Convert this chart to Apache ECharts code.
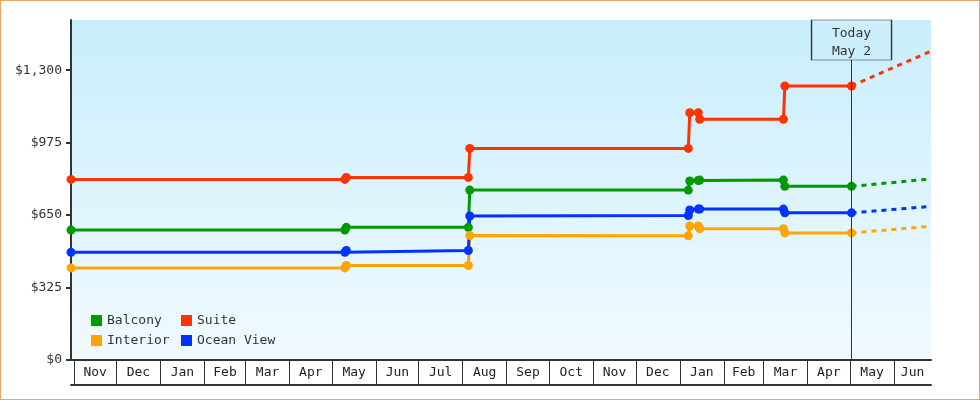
<!DOCTYPE html>
<html>
<head>
<meta charset="utf-8">
<script src="https://cdn.jsdelivr.net/npm/echarts@6/dist/echarts.min.js"></script>
<style>
  html, body { margin: 0; padding: 0; background: #fff; }
  #wrap { position: relative; width: 980px; height: 400px; }
  #chart { position: absolute; left: 0; top: 0; width: 980px; height: 400px; }
  #frame { position: absolute; left: 0; top: 0; width: 980px; height: 400px; box-sizing: border-box; border: 1px solid #e5a763; pointer-events: none; }
</style>
</head>
<body>
<div id="wrap"><div id="chart"></div><div id="frame"></div></div>
<script>
// price history, one value per change date
const dates = ['2023-10-30', '2024-05-10', '2024-05-11', '2024-08-05', '2024-08-06', '2025-01-07', '2025-01-08', '2025-01-14', '2025-01-15', '2025-03-15', '2025-03-16', '2025-05-02']
const balcony = [583, 583, 595, 595, 762, 762, 803, 805, 807, 807, 779, 779]
const suite = [810, 810, 819, 819, 949, 949, 1109, 1109, 1080, 1080, 1229, 1229]
const oceanView = [483, 483, 491, 491, 646, 648, 673, 677, 677, 677, 660, 660]
const interior = [413, 413, 424, 424, 558, 557, 601, 601, 589, 589, 570, 570]

// forecast after today
const forecastDates = ['2025-05-02', '2025-06-27']
const balconyForecast = [779, 812]
const suiteForecast = [1229, 1385]
const oceanViewForecast = [660, 689]
const interiorForecast = [570, 600]

const today = '2025-05-02'
const axisStart = '2023-10-30'
const axisEnd = '2025-06-27'

const monthStarts = ['2023-11-01', '2023-12-01', '2024-01-01', '2024-02-01', '2024-03-01', '2024-04-01', '2024-05-01', '2024-06-01', '2024-07-01', '2024-08-01', '2024-09-01', '2024-10-01', '2024-11-01', '2024-12-01', '2025-01-01', '2025-02-01', '2025-03-01', '2025-04-01', '2025-05-01', '2025-06-01']
const monthLabels = ['Nov', 'Dec', 'Jan', 'Feb', 'Mar', 'Apr', 'May', 'Jun', 'Jul', 'Aug', 'Sep', 'Oct', 'Nov', 'Dec', 'Jan', 'Feb', 'Mar', 'Apr', 'May', 'Jun']
const yTicks = [0, 325, 650, 975, 1300]

// day number (UTC based) so the x axis can be a plain value axis
const ts = s => {
  const [y, m, d] = s.split('-').map(Number)
  return Date.UTC(y, m - 1, d) / 86400000
}

const xMin = ts(axisStart)
const xMax = ts(axisEnd)
const tickValues = monthStarts.map(ts)
// labels sit in the middle of each month cell
const labelValues = tickValues.map((t, i) => {
  const end = i < tickValues.length - 1 ? tickValues[i + 1] : xMax
  return (t + Math.min(end, xMax)) / 2
})

const FONT = 'DejaVu Sans Mono'
const INK = '#333'

const pairs = (xs, ys) => xs.map((d, i) => [ts(d), ys[i]])

const priceSeries = (name, color, values, forecast) => [
  {
    name,
    type: 'line',
    z: 3,
    data: pairs(dates, values),
    symbol: 'circle',
    symbolSize: 9,
    showSymbol: true,
    itemStyle: { color },
    lineStyle: { color, width: 3 }
  },
  {
    name,
    type: 'line',
    z: 2,
    data: pairs(forecastDates, forecast),
    showSymbol: false,
    symbol: 'none',
    itemStyle: { color },
    lineStyle: { color, width: 3, type: [5, 5] }
  }
]

const chart = echarts.init(document.getElementById('chart'))

chart.setOption({
  animation: false,
  textStyle: { fontFamily: FONT },
  grid: {
    left: 71, right: 49, top: 20, bottom: 40,
    show: true,
    borderWidth: 0,
    backgroundColor: {
      type: 'linear', x: 0, y: 0, x2: 0, y2: 1,
      colorStops: [{ offset: 0, color: '#c9eefc' }, { offset: 1, color: '#f1faff' }]
    }
  },
  legend: [
    {
      orient: 'vertical', left: 91, top: 313, padding: 0, itemGap: 5,
      itemWidth: 11, itemHeight: 11, icon: 'rect',
      textStyle: { fontFamily: FONT, fontSize: 13, color: INK, lineHeight: 15 },
      data: ['Balcony', 'Interior']
    },
    {
      orient: 'vertical', left: 181, top: 313, padding: 0, itemGap: 5,
      itemWidth: 11, itemHeight: 11, icon: 'rect',
      textStyle: { fontFamily: FONT, fontSize: 13, color: INK, lineHeight: 15 },
      data: ['Suite', 'Ocean View']
    }
  ],
  xAxis: [
    {
      type: 'value',
      min: xMin,
      max: xMax,
      splitLine: { show: false },
      axisLine: { show: true, lineStyle: { color: INK, width: 2 } },
      axisTick: { show: true, inside: false, length: 25, customValues: tickValues, lineStyle: { color: INK, width: 1 } },
      axisLabel: {
        customValues: labelValues,
        margin: 6,
        fontFamily: FONT,
        fontSize: 13,
        color: '#222',
        formatter: v => monthLabels[labelValues.indexOf(v)] || ''
      }
    },
    {
      type: 'value',
      min: xMin,
      max: xMax,
      position: 'bottom',
      offset: 25,
      splitLine: { show: false },
      axisLine: { show: true, lineStyle: { color: INK, width: 2 } },
      axisTick: { show: false },
      axisLabel: { show: false }
    }
  ],
  yAxis: {
    type: 'value',
    min: 0,
    max: 1525,
    interval: 325,
    splitLine: { show: false },
    axisLine: { show: true, lineStyle: { color: INK, width: 2 } },
    axisTick: { show: true, length: 5, customValues: yTicks, lineStyle: { color: INK, width: 2 } },
    axisLabel: {
      customValues: yTicks,
      margin: 9,
      fontFamily: FONT,
      fontSize: 13,
      color: INK,
      formatter: v => '$' + v.toLocaleString('en-US')
    }
  },
  series: [
    {
      name: 'todayLine',
      type: 'line',
      z: 1,
      data: [],
      markLine: {
        silent: true,
        symbol: 'none',
        label: { show: false },
        lineStyle: { color: INK, width: 1, type: 'solid' },
        data: [{ xAxis: ts(today) }]
      }
    },
    ...priceSeries('Balcony', '#009900', balcony, balconyForecast),
    ...priceSeries('Suite', '#ff3300', suite, suiteForecast),
    ...priceSeries('Interior', '#ffa500', interior, interiorForecast),
    ...priceSeries('Ocean View', '#0033ff', oceanView, oceanViewForecast),
    {
      name: 'todayBox',
      type: 'line',
      z: 10,
      data: [],
      markPoint: {
        silent: true,
        symbol: 'rect',
        symbolSize: [80, 40],
        symbolOffset: [0, 20],
        itemStyle: { color: '#cdeffc', borderColor: INK, borderWidth: 1 },
        label: {
          show: true,
          position: 'inside',
          offset: [0, 3],
          formatter: 'Today\nMay 2',
          fontFamily: FONT,
          fontSize: 13,
          lineHeight: 18,
          color: INK
        },
        data: [{ coord: [ts(today), 1525] }]
      }
    }
  ]
})
</script>
</body>
</html>
